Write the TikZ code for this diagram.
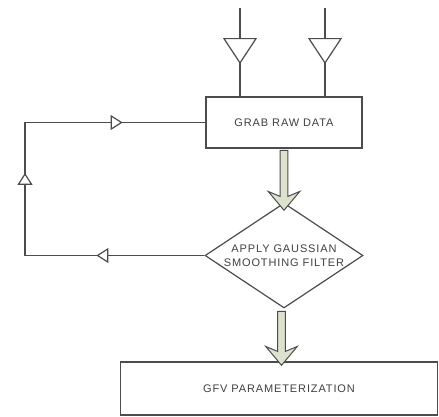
\documentclass[tikz,border=0pt]{standalone}
\usepackage{fontspec}
\setmainfont{Liberation Sans}
\newfontfamily\boxfont[LetterSpace=8]{Liberation Sans}
\usetikzlibrary{shapes.geometric,shapes.arrows,arrows.meta,decorations.markings}
\tikzset{every picture/.style={line width=1.2pt}}
\definecolor{linegray}{rgb}{0.30,0.30,0.30}
\definecolor{txtgray}{rgb}{0.25,0.25,0.25}
\definecolor{sagefill}{rgb}{0.867,0.886,0.808}

\begin{document}
\begin{tikzpicture}[
    x=1pt, y=1pt,
    procbox/.style={
        rectangle, draw=linegray, fill=white, inner sep=0pt,
        font=\boxfont\fontsize{11}{14}\selectfont, text=txtgray
    },
    decision/.style={
        diamond, draw=linegray, fill=white, aspect=1.5, inner sep=0pt,
        minimum width=158pt, minimum height=105pt, align=center,
        font=\boxfont\fontsize{11}{14}\selectfont, text=txtgray
    },
    fatarrow/.style={
        single arrow, shape border rotate=270, draw=linegray, fill=sagefill,
        line width=1pt, inner sep=3.3pt, minimum width=0pt,
        single arrow head extend=12pt, single arrow head indent=5pt,
        single arrow tip angle=80
    },
    flow/.style={draw=linegray, line width=1.2pt},
    bigtip/.style={   % buffer triangle on the input legs
        decoration={markings, mark=at position #1 with
          {\arrow{Triangle[width=34pt,length=26pt,fill=white]}}},
        postaction=decorate
    },
    looptips/.style={
        decoration={markings,
          mark=at position 108pt with {\arrow{Triangle[width=15pt,length=12pt,fill=white]}},
          mark=at position 262pt with {\arrow{Triangle[width=15pt,length=12pt,fill=white]}},
          mark=at position 410pt with {\arrow{Triangle[width=15pt,length=12pt,fill=white]}}},
        postaction=decorate
    },
]

\useasboundingbox (0,0) rectangle (439,-416);

%% ===================== BLOCKS =====================
\node[procbox, minimum width=156pt, minimum height=51pt] (raw) at (284,-122.5)
  {GRAB RAW DATA};
\node[decision] (smooth) at (284,-255.5)
  {APPLY GAUSSIAN\\SMOOTHING FILTER};
\node[procbox, minimum width=317pt, minimum height=53pt] (gfv) at (279,-388.5)
  {GFV PARAMETERIZATION};

%% ===================== INPUT LEGS =====================
\coordinate (in1) at (240,-8);
\coordinate (in2) at (325,-8);
\draw[flow, bigtip=56pt] (in1) -- (in1 |- raw.north);
\draw[flow, bigtip=56pt] (in2) -- (in2 |- raw.north);

%% ===================== FEEDBACK LOOP =====================
\coordinate (lbot) at (25,-255.5);
\coordinate (ltop) at (25,-122.5);
\draw[flow, looptips] (smooth.west) -- (lbot) -- (ltop) -- (raw.west);

%% ===================== MAIN FLOW =====================
\path (raw.south) -- node[fatarrow, minimum height=60pt, yshift=-2.5pt] (drop1) {}
  (smooth.north);
\path (smooth.south) -- node[fatarrow, minimum height=54pt, yshift=-1pt] (drop2) {}
  (gfv.north);

\end{tikzpicture}
\end{document}
